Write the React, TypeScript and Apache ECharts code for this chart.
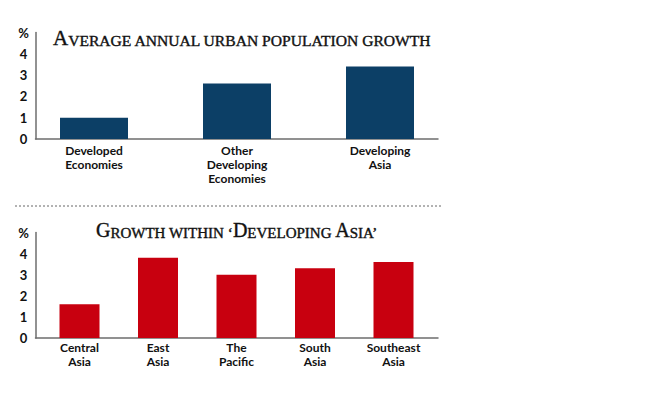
import React, { useEffect, useRef } from "react";
import * as echarts from "echarts";

const topCategories = ["Developed\nEconomies", "Other\nDeveloping\nEconomies", "Developing\nAsia"];
const topValues = [1.0, 2.6, 3.4];
const bottomCategories = ["Central\nAsia", "East\nAsia", "The\nPacific", "South\nAsia", "Southeast\nAsia"];
const bottomValues = [1.6, 3.8, 3.0, 3.3, 3.6];
const yMax = 5;
const yInterval = 1;
const yTopLabel = "%";

const LABEL_FONT = "Lato, 'Open Sans', sans-serif";
const SERIF = "'Liberation Serif', 'DejaVu Serif', serif";

function yLabelFormatter(v: number) {
  return v === yMax ? yTopLabel : String(v);
}

export default function App() {
  const ref = useRef<HTMLDivElement>(null);
  useEffect(() => {
    if (!ref.current) return;
    const chart = echarts.init(ref.current, null, { renderer: "svg" });
    const titleRich = (big: number, small: number) => ({
      b: {
        fontFamily: SERIF, fontWeight: "normal", fontSize: big, lineHeight: big, verticalAlign: "bottom",
        color: "#111", textBorderColor: "#111", textBorderWidth: 0.4,
      },
      s: {
        fontFamily: SERIF, fontWeight: "normal", fontSize: small, lineHeight: small, verticalAlign: "bottom",
        color: "#111", textBorderColor: "#111", textBorderWidth: 0.4,
      },
    });
    const axisGridY = (gridIndex: number) => ({
      gridIndex,
      type: "value",
      min: 0,
      max: yMax,
      interval: yInterval,
      axisLine: { show: true, lineStyle: { color: "#6e6e6e", width: 1.5 } },
      axisTick: { show: false },
      splitLine: { show: false },
      axisLabel: {
        show: true,
        formatter: yLabelFormatter,
        align: "center",
        margin: 12,
        fontFamily: LABEL_FONT,
        fontWeight: "bold",
        fontSize: 13,
        color: "#111",
      },
    });
    const axisGridX = (gridIndex: number) => ({
      gridIndex,
      type: "value",
      min: 0,
      max: 1,
      axisLine: { show: true, onZero: false, lineStyle: { color: "#6e6e6e", width: 1.5 } },
      axisTick: { show: false },
      splitLine: { show: false },
      axisLabel: { show: false },
    });
    const barX = (gridIndex: number, data: string[], margin: number, lh: number) => ({
      gridIndex,
      type: "category",
      data,
      axisLine: { show: false },
      axisTick: { show: false },
      axisLabel: {
        margin,
        interval: 0,
        fontFamily: LABEL_FONT,
        fontWeight: "bold",
        fontSize: 12,
        lineHeight: lh,
        color: "#111",
      },
    });
    const barY = (gridIndex: number) => ({
      gridIndex,
      type: "value",
      min: 0,
      max: yMax,
      show: false,
    });
    chart.setOption({
      animation: false,
      backgroundColor: "#ffffff",
      title: [
        {
          text: "{b|A}{s|VERAGE ANNUAL URBAN POPULATION GROWTH}",
          left: 53,
          top: 27,
          padding: 0,
          textStyle: { fontWeight: "normal", rich: titleRich(21, 15.6) },
        },
        {
          text: "{b|G}{s|ROWTH WITHIN \u2018}{b|D}{s|EVELOPING }{b|A}{s|SIA\u2019}",
          left: 96,
          top: 220,
          padding: 0,
          textStyle: { fontWeight: "normal", rich: titleRich(20, 15) },
        },
      ],
      grid: [
        { left: 22.5, width: 429, top: 32.5, height: 106.5 },
        { left: 35.5, width: 402.5, top: 32.5, height: 106.5 },
        { left: 40.25, width: 392.5, top: 232.5, height: 105.5 },
        { left: 35.5, width: 402.5, top: 232.5, height: 105.5 },
      ],
      xAxis: [
        barX(0, topCategories, 4, 14),
        axisGridX(1),
        barX(2, bottomCategories, 2, 14),
        axisGridX(3),
      ],
      yAxis: [barY(0), axisGridY(1), barY(2), axisGridY(3)],
      series: [
        {
          type: "bar",
          xAxisIndex: 0,
          yAxisIndex: 0,
          data: topValues,
          barWidth: 68,
          itemStyle: { color: "#0c3f66" },
        },
        {
          type: "bar",
          xAxisIndex: 2,
          yAxisIndex: 2,
          data: bottomValues,
          barWidth: 40,
          itemStyle: { color: "#c8000f" },
        },
      ],
      graphic: [
        {
          type: "line",
          shape: { x1: 15, y1: 206, x2: 443, y2: 206 },
          style: { stroke: "#666", lineWidth: 1, lineDash: [2, 2] },
        },
      ],
    });
    return () => chart.dispose();
  }, []);
  return (
    <div
      ref={ref}
      style={{ position: "absolute", left: 0, top: 0, width: 660, height: 397, background: "#fff" }}
    />
  );
}
